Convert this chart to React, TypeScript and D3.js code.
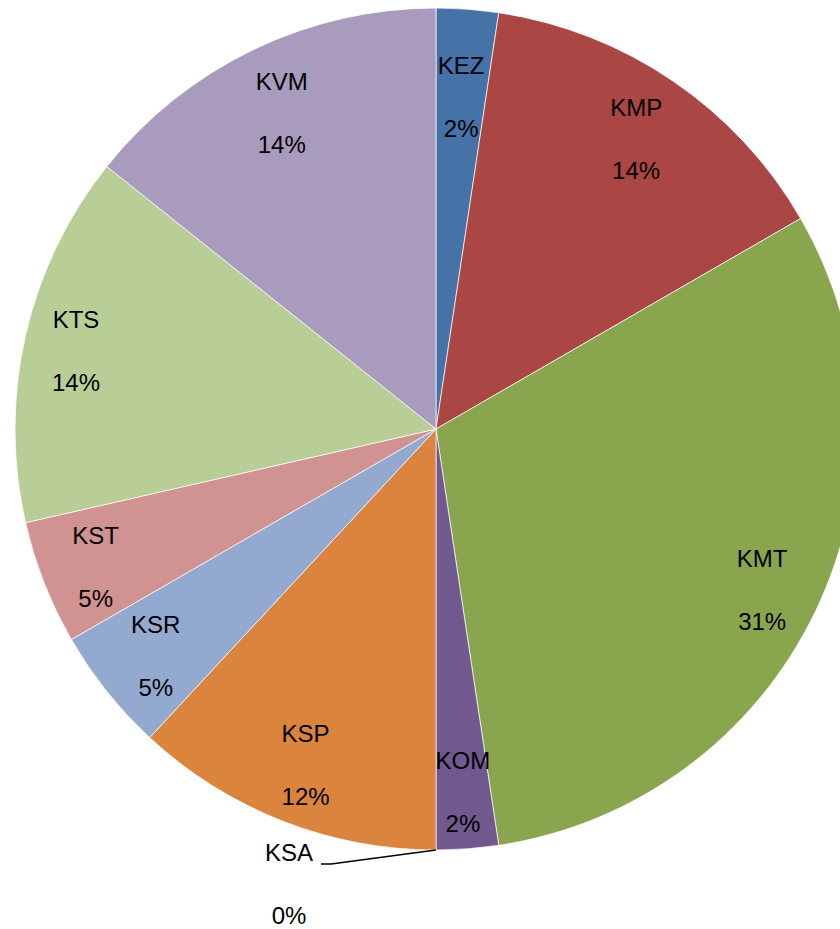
import * as d3 from "d3";
import React, { useEffect, useRef } from "react";

// counts per unit (42 in total)
const categories = ["KEZ", "KMP", "KMT", "KOM", "KSA", "KSP", "KSR", "KST", "KTS", "KVM"];
const counts = [1, 6, 13, 1, 0, 5, 2, 2, 6, 6];
const percentLabels = ["2%", "14%", "31%", "2%", "0%", "12%", "5%", "5%", "14%", "14%"];
const colors = [
  "#4572A7",
  "#AA4643",
  "#89A54E",
  "#71588F",
  "#4198AF",
  "#DB843D",
  "#93A9CF",
  "#D19392",
  "#B9CD96",
  "#A99BBD",
];

const W = 840;
const H = 929;

const PieChart = () => {
  const ref = useRef<SVGSVGElement>(null);

  useEffect(() => {
    const svg = d3.select(ref.current);
    svg.selectAll("*").remove();

    const cx = 436;
    const cy = 429;
    const R = 421;
    const fontSize = 24;
    const lineGap = 63;
    const capH = 17;
    const pad = 18;

    const data = categories.map((c, i) => ({ name: c, value: counts[i], pct: percentLabels[i], color: colors[i] }));
    const pie = d3
      .pie<any>()
      .value((d) => d.value)
      .sort(null);
    const arcs = pie(data);
    const arc = d3.arc<any>().innerRadius(0).outerRadius(R);

    const g = svg.append("g").attr("transform", `translate(${cx},${cy})`);

    g.selectAll("path.slice")
      .data(arcs.filter((a) => a.value > 0))
      .enter()
      .append("path")
      .attr("class", "slice")
      .attr("d", arc)
      .attr("fill", (d) => d.data.color)
      .attr("stroke", "#ffffff")
      .attr("stroke-width", 1)
      .attr("stroke-opacity", 0.7);

    arcs.forEach((a) => {
      const mid = (a.startAngle + a.endAngle) / 2;
      const ux = Math.sin(mid);
      const uy = -Math.cos(mid);

      const t = g
        .append("text")
        .attr("text-anchor", "middle")
        .attr("font-family", "Liberation Sans, Arial, sans-serif")
        .attr("font-size", fontSize)
        .attr("fill", "#000000");
      const l1 = t.append("tspan").text(a.data.name);
      const l2 = t.append("tspan").text(a.data.pct);
      const hw =
        Math.max((l1.node() as any).getComputedTextLength(), (l2.node() as any).getComputedTextLength()) / 2;
      const hh = (lineGap + capH) / 2;

      let x: number;
      let y: number;
      if (a.value === 0) {
        // zero slice: label pushed outside with a leader line
        const px = ux * R;
        const py = uy * R;
        x = px - 147;
        y = py + 34;
        const leader = d3.line()([
          [px, py],
          [px - 105, py + 14],
          [px - 115, py + 14],
        ]);
        g.append("path")
          .attr("d", leader)
          .attr("fill", "none")
          .attr("stroke", "#000000")
          .attr("stroke-width", 1.5);
      } else {
        // inside end: push the label box out until its far corner reaches the rim
        const c = [Math.sign(ux) * hw, Math.sign(uy) * hh];
        const uc = ux * c[0] + uy * c[1];
        const cc = c[0] * c[0] + c[1] * c[1];
        // the narrow top slice keeps its label a bit further in
        const sweep = a.endAngle - a.startAngle;
        const rr = R - pad - (sweep < 0.2 && uy < 0 ? 24 : 0);
        const d = -uc + Math.sqrt(uc * uc - cc + rr * rr);
        x = ux * d;
        y = uy * d + 4;
      }
      const base1 = y - hh + capH;
      l1.attr("x", x).attr("y", base1);
      l2.attr("x", x).attr("y", base1 + lineGap);
    });
  }, []);

  return (
    <svg
      ref={ref}
      width={W}
      height={H}
      style={{ position: "absolute", left: 0, top: 0, display: "block", background: "#ffffff" }}
    />
  );
};

export default function App() {
  return <PieChart />;
}
